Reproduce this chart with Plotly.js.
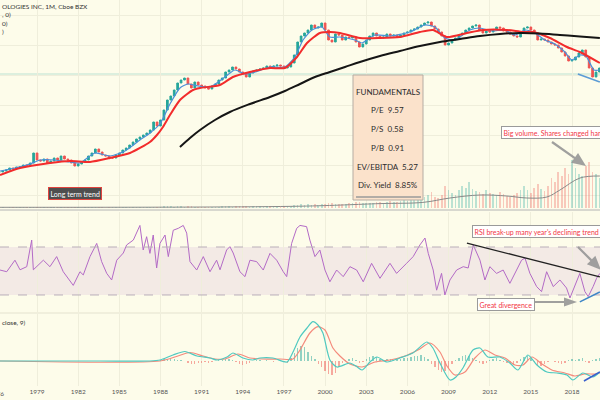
<!DOCTYPE html>
<html><head><meta charset="utf-8">
<script src="https://cdn.plot.ly/plotly-3.0.1.min.js"></script>
<style>html,body{margin:0;padding:0;background:#fdfcea;}#chart{width:600px;height:400px;}</style>
</head><body><div id="chart"></div>
<script>
// ---------- DATA ----------
const START = 1976.25, STEP = 0.25; // quarterly bars
const close = [7.6,7.8,8.0,8.4,8.2,8.6,8.6,9.0,8.8,9.4,
11.4,10.0,9.8,10.2,9.4,9.8,10.4,10.0,10.8,10.2,
10.0,9.4,8.8,9.2,9.6,10.0,10.8,11.4,12.2,11.6,
11.0,10.8,10.4,10.4,11.0,11.4,12.0,12.4,13.0,13.6,
14.2,14.6,15.0,15.4,16.0,17.6,16.8,18.0,20.0,22.0,
22.8,24.0,25.4,26.0,26.4,25.2,24.4,25.6,25.0,24.8,
24.4,24.2,24.8,25.2,26.0,26.4,27.6,28.0,28.6,28.2,
27.6,27.2,26.6,27.4,27.8,28.0,28.2,28.4,28.8,28.6,
28.8,29.0,28.8,28.4,28.6,29.4,31.0,33.6,34.8,35.4,
36.0,37.0,36.4,36.6,37.4,36.0,34.0,33.6,35.2,35.0,
34.0,34.6,34.4,34.6,33.6,32.6,33.2,34.0,34.8,35.4,
34.8,34.4,34.6,35.2,34.8,35.0,34.6,35.0,35.4,35.6,
36.0,36.2,36.6,37.0,37.4,37.6,36.8,36.2,35.6,34.8,
33.0,33.4,34.0,34.4,35.0,35.4,36.0,36.4,36.8,37.0,
36.0,35.4,35.8,35.6,36.0,36.6,36.4,35.8,35.6,35.2,
34.8,34.6,35.6,36.4,36.6,36.0,35.4,34.0,34.2,34.0,
33.6,33.2,33.0,32.4,31.6,30.8,29.8,30.0,30.6,31.4,
32.0,30.6,28.4,26.6,27.6,28.4];

const volume = [0.3,0.3,0.25,0.35,0.3,0.3,0.35,0.3,0.4,0.35,
0.5,0.4,0.35,0.35,0.3,0.35,0.4,0.35,0.4,0.35,
0.35,0.4,0.45,0.35,0.35,0.4,0.45,0.5,0.55,0.45,
0.4,0.4,0.45,0.4,0.45,0.5,0.45,0.5,0.55,0.5,
0.55,0.5,0.55,0.6,0.55,0.7,0.65,0.75,0.8,0.85,
0.8,0.75,0.85,0.8,0.75,0.85,0.8,0.75,0.7,0.75,
0.7,0.75,0.65,0.7,0.75,0.8,0.85,0.8,0.75,0.8,
0.85,0.9,0.8,0.75,0.8,0.85,0.8,0.75,0.8,0.85,
0.8,0.9,0.85,0.95,1.1,1.2,1.4,1.7,1.8,1.6,
1.8,1.6,2.0,1.7,1.8,2.2,2.4,2.6,2.2,1.9,
2.0,2.2,2.5,2.3,2.8,3.2,2.7,2.4,2.3,2.5,
2.8,3.0,2.6,2.9,3.3,2.8,3.0,3.5,3.8,3.3,
3.8,4.5,4.0,5.0,5.5,6.5,8.0,5.5,5.0,6.5,
11.0,9.0,7.5,6.5,9.0,11.0,10.0,13.0,9.5,8.5,
8.0,7.0,9.0,7.5,7.0,6.5,8.0,7.0,6.0,5.5,
6.5,7.5,9.0,11.0,9.0,7.5,10.0,12.0,9.5,8.5,
11.0,15.0,13.0,18.0,16.0,20.0,17.0,24.0,20.0,17.0,
16.0,21.0,23.0,18.0,17.0,15.0];

const volMaYear = [1976.30,1998.17,2004.00,2007.13,2009.10,2011.29,2013.25,2014.71,2016.17,2017.12,2018.58,2020.03];
const volMaVal  = [0.35,0.9,2.2,2.8,5,6.5,6,5,5.5,9,15,16];

const redYear = [1976.30,1977.76,1979.94,1981.40,1982.86,1984.32,1985.78,1987.23,1987.74,1988.18,1988.69,1989.42,1990.37,1990.88,1992.33,1993.28,1994.52,1995.98,1997.07,1997.95,1998.68,1999.62,2000.35,2001.08,2002.54,2004.00,2005.45,2006.91,2007.86,2008.88,2010.34,2011.50,2013.25,2014.42,2015.15,2016.39,2017.63,2018.57,2020.03];
const redVal  = [7.0,8.4,9.4,9.8,9.6,10.4,11.4,13.6,15.0,16.6,19.0,22.0,24.0,24.4,25.0,26.6,27.6,28.4,28.4,30.6,33.4,35.4,35.6,35.4,34.4,34.4,34.6,35.6,36.0,34.6,35.4,36.0,36.0,35.6,35.6,34.4,32.6,31.6,29.4];

const blueYear = [1976.30,1977.39,1978.49,1979.22,1980.31,1981.40,1982.13,1983.22,1984.32,1985.41,1986.50,1987.23,1987.96,1988.69,1989.42,1990.00,1990.73,1991.61,1992.70,1993.43,1994.16,1994.89,1995.98,1997.07,1997.80,1998.39,1999.04,1999.77,2000.35,2001.08,2002.18,2002.69,2003.63,2004.73,2006.18,2007.28,2008.01,2008.74,2009.46,2010.56,2011.29,2012.16,2013.11,2013.84,2014.57,2015.30,2016.02,2016.75,2017.48,2017.99,2018.58,2019.01,2019.60,2020.03];
const blueVal  = [7.8,8.4,9.2,10.0,10.0,9.6,9.4,11.4,10.8,11.8,14.0,15.4,17.2,21.2,24.4,25.2,24.8,24.6,26.6,28.0,27.2,27.6,28.6,28.6,30.6,34.0,36.0,36.6,34.6,34.6,34.0,33.4,35.0,34.8,35.6,37.0,36.6,34.4,34.0,36.0,36.4,35.8,36.0,35.0,36.0,35.4,34.0,33.2,31.6,30.0,31.0,30.8,28.0,28.0];

const blackYear = [1989.42,1990.15,1990.88,1991.97,1993.06,1994.52,1995.98,1997.07,1998.17,1999.26,2000.35,2001.45,2002.54,2004.00,2005.45,2006.91,2008.37,2009.83,2011.29,2012.75,2014.20,2015.66,2017.12,2018.58,2020.03];
const blackVal  = [12.6,14.4,16.0,18.0,19.6,21.2,22.6,23.8,25.2,26.6,27.6,28.6,29.6,30.8,31.8,32.8,33.6,34.2,34.8,35.2,35.4,35.3,35.0,34.7,34.4];

const rsiYear = [1976.30,1976.79,1977.39,1977.76,1978.25,1978.61,1978.73,1979.46,1979.94,1980.43,1980.91,1981.64,1982.13,1982.37,1982.86,1983.35,1983.71,1984.08,1984.44,1984.81,1985.29,1985.53,1986.02,1986.50,1986.74,1986.99,1987.23,1987.47,1987.72,1987.96,1988.33,1988.57,1988.93,1989.30,1989.66,1989.91,1990.15,1990.64,1991.12,1991.61,1992.09,1992.34,1992.82,1993.06,1993.30,1993.79,1994.16,1994.52,1995.01,1995.49,1995.98,1996.47,1996.95,1997.20,1997.56,1997.93,1998.17,1998.65,1998.89,1999.26,1999.62,1999.99,2000.35,2000.84,2001.32,2001.81,2002.30,2002.78,2003.39,2004.00,2004.73,2005.21,2005.94,2006.42,2006.91,2007.28,2007.52,2007.88,2008.13,2008.49,2008.73,2009.10,2009.59,2010.07,2010.43,2010.80,2011.29,2011.65,2012.01,2012.50,2012.98,2013.47,2013.96,2014.32,2014.57,2014.93,2015.42,2015.78,2016.15,2016.63,2017.12,2017.60,2017.85,2018.21,2018.57,2018.94,2019.18,2019.54,2019.79,2020.03];
const rsiVal = [50.8,49.4,59,51,53.6,75.8,51,59,53.6,62,49.4,38,49.4,46.7,62,73,57.8,48,42.5,59,65,71.7,75.8,88,67.5,78.6,64.7,80,52.5,73,80,62,84,85.6,88,81.6,57.8,50.8,62,49.4,59,51,67.5,70.3,65,49.4,45.3,59,57.8,50.8,64.7,59,49.4,45.3,73,85.6,88,87,75.8,62,67.5,50.8,41,50.8,45.3,53.6,50.8,41,56.4,43.9,56.4,48,56.4,62,71.7,77.5,64.7,50.8,34,48,30,42.5,50.8,53.6,52.5,71.7,59,42.5,53.6,48,50.8,39.7,50.8,59,60.8,48,37,32.8,49.4,37,42.5,35.8,27.5,38,48,32.8,28.6,37,43.9,48];

const macdYear = [1976.30,1983.59,1987.23,1987.96,1988.91,1989.78,1990.66,1991.61,1992.12,1992.85,1993.28,1994.01,1994.74,1995.25,1996.20,1997.22,1997.66,1998.17,1998.68,1999.11,1999.48,1999.84,2000.35,2000.86,2001.81,2002.25,2002.69,2003.27,2003.78,2004.51,2005.45,2006.40,2007.42,2007.86,2008.37,2009.10,2009.54,2010.05,2010.78,2011.29,2011.87,2012.74,2013.47,2014.06,2014.78,2015.44,2016.17,2016.90,2017.63,2018.06,2018.79,2019.52,2020.03];
const macdVal = [0,0,0,0.1,0.6,0.95,0.5,0.3,0.1,0.4,0.8,0.3,0.1,0.3,0.3,-0.1,0.9,2.4,3.3,3.93,3.6,2.8,0.1,-0.6,-0.2,-0.5,-0.9,-0.1,0.4,-0.1,0.3,0.8,1.9,1.3,-0.2,-1.9,-1.6,-0.7,1.1,1.3,0.4,0.4,-0.2,-0.9,0.6,-0.4,-1.1,-1.2,-1.4,-1.9,-1.2,-1.6,-1.1];
const signalYear = [1976.30,1987.96,1989.27,1990.15,1991.10,1991.97,1992.70,1993.65,1994.52,1995.40,1996.71,1997.66,1998.17,1998.89,1999.48,1999.99,2000.57,2001.08,2001.81,2002.69,2003.63,2004.73,2005.82,2006.77,2007.64,2008.37,2008.88,2009.46,2010.19,2010.92,2011.65,2012.38,2013.11,2013.84,2014.42,2015.08,2015.80,2016.53,2017.48,2018.21,2018.94,2019.67,2020.03];
const signalVal = [0,0,0.5,0.85,0.5,0.2,0.2,0.7,0.3,0.2,0.2,0.2,1.1,2.8,3.43,3.1,1.3,0.5,-0.3,-0.6,-0.1,0.1,0.5,1.1,1.8,0.9,-0.5,-1.4,-1.1,0.3,1.1,0.6,0.3,-0.4,-0.4,0.4,-0.3,-0.9,-1.2,-1.5,-1.3,-1.3,-1.2];
const hist = [0,0,0,0,0,0,0,0,0,0,
0,0,0,0,0,0,0,0,0,0,
0,0,0,0,0,0,0,0,0,0,
0,0,0,0,0,0,0,0,0,0,
0,0,0,0,0,0,0.1,0.15,0.2,0.25,
0.2,0.2,0.15,0.1,0,-0.15,-0.25,-0.3,-0.2,-0.15,
-0.1,-0.15,-0.1,0.05,0.1,0.15,0.2,0.25,0.15,-0.1,
-0.3,-0.4,-0.3,-0.15,0.05,0.1,0.1,0.05,0.1,0.05,
-0.05,0.05,0.05,-0.1,-0.2,0.3,0.8,1.3,1.5,1.4,
0.9,0.5,0.2,-0.3,-0.6,-1.0,-1.3,-1.4,-1.2,-0.6,
-0.2,0.1,0.2,0.3,0.1,-0.2,-0.1,0.2,0.4,0.5,
0.4,0.2,0.1,0.2,0.2,0.1,0.2,0.2,0.3,0.3,
0.4,0.5,0.5,0.6,0.4,0.2,-0.3,-0.6,-0.9,-1.1,
-1.0,-0.7,-0.3,0.1,0.3,0.5,0.6,0.5,0.3,0.1,
-0.2,-0.3,-0.2,0.1,0.2,0.3,0.1,-0.1,-0.2,-0.3,
-0.4,-0.2,0.2,0.4,0.5,0.3,-0.1,-0.4,-0.5,-0.3,
-0.1,0.05,-0.1,-0.2,-0.3,-0.2,0.1,0.2,0.15,0.2,
0.3,-0.1,-0.2,0.1,0.2,0.3];

const yearTicks = [1976,1979,1982,1985,1988,1991,1994,1997,2000,2003,2006,2009,2012,2015,2018];
const fundamentals = ["FUNDAMENTALS","P/E  9.57","P/S  0.58","P/B  0.91","EV/EBITDA  5.27","Div. Yield  8.85%"];
const headerLines = ["OLOGIES INC, 1M, Cboe BZX", ", 0)", "0)", ")"];

// ---------- BUILD ----------
const t = close.map((_, i) => START + STEP * i);
const open = close.map((c, i) => i === 0 ? c : close[i - 1]);
const high = close.map((c, i) => Math.max(c, open[i]));
const low = close.map((c, i) => Math.min(c, open[i]));
const TEAL = '#26a69a', RED = '#ef5350';
const volColors = close.map((c, i) => c >= open[i] ? 'rgba(38,166,154,0.3)' : 'rgba(239,83,80,0.3)');
const histColors = hist.map(v => v >= 0 ? 'rgba(38,166,154,0.5)' : 'rgba(239,83,80,0.5)');

const FONT = 'Lato, "Liberation Sans", sans-serif';
const W = 600, H = 400;
const px = x => x / W, py = y => 1 - y / H;

const traces = [
  {type:'bar', x:t, y:volume, yaxis:'y2', width:0.12, marker:{color:volColors, line:{width:0}}, hoverinfo:'skip'},
  {type:'scatter', mode:'lines', x:volMaYear, y:volMaVal, yaxis:'y2', line:{color:'#8a8a8a', width:1, shape:'spline'}, hoverinfo:'skip'},
  {type:'candlestick', x:t, open:open, high:high, low:low, close:close, xaxis:'x', yaxis:'y',
   increasing:{line:{color:TEAL, width:1}, fillcolor:TEAL}, decreasing:{line:{color:RED, width:1}, fillcolor:RED}, hoverinfo:'skip'},
  {type:'scatter', mode:'lines', x:blueYear, y:blueVal, line:{color:'#4a90d9', width:1.2, shape:'spline', smoothing:0.6}, hoverinfo:'skip'},
  {type:'scatter', mode:'lines', x:redYear, y:redVal, line:{color:'#f22c2c', width:2, shape:'spline', smoothing:0.6}, hoverinfo:'skip'},
  {type:'scatter', mode:'lines', x:blackYear, y:blackVal, line:{color:'#151515', width:2, shape:'spline'}, hoverinfo:'skip'},
  {type:'scatter', mode:'lines', x:rsiYear, y:rsiVal, yaxis:'y3', line:{color:'#b36ac6', width:1}, hoverinfo:'skip'},
  {type:'bar', x:t, y:hist, yaxis:'y4', width:0.1, marker:{color:histColors, line:{width:0}}, hoverinfo:'skip'},
  {type:'scatter', mode:'lines', x:signalYear, y:signalVal, yaxis:'y4', line:{color:'#f48a7c', width:1.2, shape:'spline', smoothing:0.7}, hoverinfo:'skip'},
  {type:'scatter', mode:'lines', x:macdYear, y:macdVal, yaxis:'y4', line:{color:'#4fc9c0', width:1.2, shape:'spline', smoothing:0.7}, hoverinfo:'skip'}
];

function arrowPath(x0, y0, x1, y1, shaft, headW, headL) {
  const dx = x1 - x0, dy = y1 - y0, L = Math.hypot(dx, dy);
  const ux = dx / L, uy = dy / L, nx = -uy, ny = ux;
  const bx = x1 - ux * headL, by = y1 - uy * headL;
  const pts = [
    [x0 + nx * shaft / 2, y0 + ny * shaft / 2],
    [bx + nx * shaft / 2, by + ny * shaft / 2],
    [bx + nx * headW / 2, by + ny * headW / 2],
    [x1, y1],
    [bx - nx * headW / 2, by - ny * headW / 2],
    [bx - nx * shaft / 2, by - ny * shaft / 2],
    [x0 - nx * shaft / 2, y0 - ny * shaft / 2]
  ];
  return 'M' + pts.map(p => px(p[0]).toFixed(4) + ',' + py(p[1]).toFixed(4)).join(' L') + ' Z';
}

const shapes = [
  {type:'line', xref:'paper', yref:'paper', x0:0, x1:1, y0:py(210), y1:py(210), line:{color:'#b4b4b4', width:1}},
  {type:'line', xref:'paper', yref:'paper', x0:0, x1:1, y0:py(313), y1:py(313), line:{color:'#e4e2cf', width:1}},
  {type:'rect', xref:'paper', yref:'y3', x0:0, x1:1, y0:30, y1:70, fillcolor:'rgba(160,80,190,0.10)', line:{width:0}, layer:'below'},
  {type:'line', xref:'paper', yref:'y3', x0:0, x1:1, y0:70, y1:70, line:{color:'#b9aeb9', width:1, dash:'dash'}},
  {type:'line', xref:'paper', yref:'y3', x0:0, x1:1, y0:30, y1:30, line:{color:'#b9aeb9', width:1, dash:'dash'}},
  {type:'line', xref:'paper', yref:'y', x0:0, x1:1, y0:27.2, y1:27.2, line:{color:'rgba(38,166,154,0.3)', width:1}, layer:'below'},
  // trend lines drawn on the chart
  {type:'line', xref:'x', yref:'y3', x0:2010.34, y0:73.3, x1:2020.03, y1:45, line:{color:'#222', width:1.3}},
  {type:'line', xref:'x', yref:'y3', x0:2018.57, y0:24.2, x1:2020.03, y1:32.5, line:{color:'#3d85c6', width:1.5}},
  {type:'line', xref:'x', yref:'y', x0:2018.43, y0:27.2, x1:2020.03, y1:25.6, line:{color:'#5b9bd5', width:1.6}},
  {type:'line', xref:'x', yref:'y4', x0:2018.87, y0:-2.0, x1:2020.03, y1:-1.1, line:{color:'#3a5fcd', width:1.6}},
  // fundamentals box
  {type:'rect', xref:'paper', yref:'paper', x0:px(353), x1:px(423), y0:py(200), y1:py(75), fillcolor:'#fbe2cb', line:{color:'#b5aca3', width:1}},
  {type:'line', xref:'paper', yref:'paper', x0:px(356), x1:px(421), y0:py(197), y1:py(197), line:{color:'#9a9a9a', width:1.5}},
  // arrows
  {type:'path', xref:'paper', yref:'paper', path:arrowPath(552,142,586,166,2.2,12,14), fillcolor:'rgba(150,150,150,0.9)', line:{width:0}},
  {type:'path', xref:'paper', yref:'paper', path:arrowPath(578,247,601,270,2.2,12,14), fillcolor:'rgba(150,150,150,0.9)', line:{width:0}},
  {type:'path', xref:'paper', yref:'paper', path:arrowPath(535,302,577,302,2.2,9,13), fillcolor:'rgba(150,150,150,0.9)', line:{width:0}}
];

const ann = [];
function txt(text, x, y, opts) {
  ann.push(Object.assign({text:text, x:px(x), y:py(y), xref:'paper', yref:'paper', showarrow:false,
    xanchor:'left', yanchor:'middle', font:{family:FONT, size:6.5, color:'#333'}}, opts || {}));
}
headerLines.forEach((s, i) => txt(s, 0, 7 + 8 * i));
txt('close, 9)', 0, 322);
txt(String(yearTicks[0]), -4, 393, {xanchor:'center', font:{family:FONT, size:6.5, color:'#555'}});
const fy = [92, 110, 129, 148, 167, 185];
fundamentals.forEach((s, i) => txt(s, 388, fy[i], {xanchor:'center', font:{family:FONT, size:8, color:'#2b2b2b'}}));
const boxed = {bgcolor:'#ffffff', bordercolor:'#9a9a9a', borderwidth:1, borderpad:1.5, font:{family:FONT, size:7, color:'#f23645'}};
txt('Big volume. Shares changed hands', 501, 132, boxed);
txt("RSI break-up many year's declining trend line", 472, 232, boxed);
txt('Great divergence', 506, 304, Object.assign({}, boxed, {xanchor:'center'}));
txt('Long term trend', 75, 193.5, {xanchor:'center', bgcolor:'#4e4e4e', bordercolor:'#e0443e', borderwidth:1, borderpad:1.5,
  font:{family:FONT, size:7, color:'#ffffff'}});

const GRID = '#efeedb';
const layout = {
  width:W, height:H, margin:{l:0, r:0, t:0, b:0, pad:0},
  paper_bgcolor:'#fdfcea', plot_bgcolor:'#fdfcea', showlegend:false, bargap:0,
  xaxis:{range:[1976.3, 2020.04], tickvals:yearTicks, ticktext:yearTicks.map(String), showgrid:true, gridcolor:GRID,
    zeroline:false, showline:false, ticks:'', anchor:'y4', automargin:false, rangeslider:{visible:false},
    tickfont:{family:FONT, size:6.5, color:'#555'}, fixedrange:true},
  yaxis:{domain:[0.48, 1], range:[0.4, 42], showticklabels:false, showgrid:true, gridcolor:GRID, tick0:3, dtick:6,
    zeroline:false, automargin:false, fixedrange:true},
  yaxis2:{overlaying:'y', range:[0, 104], visible:false, fixedrange:true},
  yaxis3:{domain:[0.22, 0.47], range:[15.8, 99.2], showticklabels:false, showgrid:false, zeroline:false, automargin:false},
  yaxis4:{domain:[0.035, 0.215], range:[-2.5, 4.7], showticklabels:false, showgrid:false, zeroline:false, automargin:false},
  shapes:shapes, annotations:ann
};
Plotly.newPlot('chart', traces, layout, {staticPlot:true, displayModeBar:false});
</script></body></html>
